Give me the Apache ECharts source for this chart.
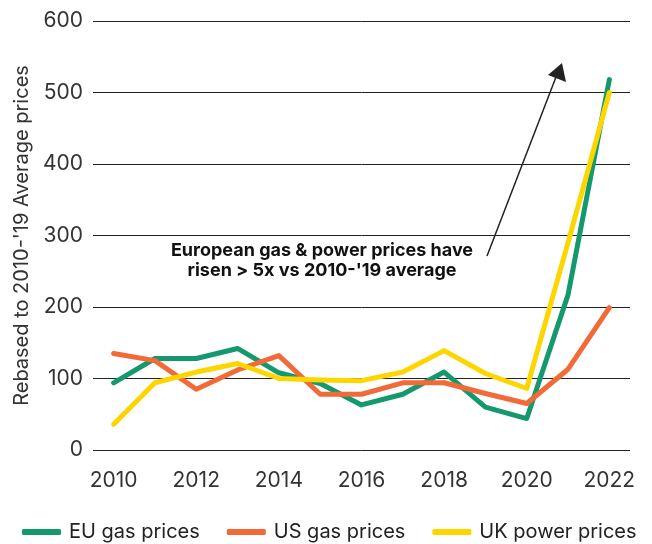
<!DOCTYPE html>
<html>
<head>
<meta charset="utf-8">
<script src="https://cdn.jsdelivr.net/npm/echarts@6/dist/echarts.min.js"></script>
<style>
  html, body { margin: 0; padding: 0; background: #fff; }
  #main { width: 652px; height: 544px; }
</style>
</head>
<body>
<div id="main"></div>
<script>
// years on the x axis
var years = ['2010', '2011', '2012', '2013', '2014', '2015', '2016',
  '2017', '2018', '2019', '2020', '2021', '2022']
// rebased to 2010-'19 average = 100
var euGas = [94, 128, 128, 142, 108, 93, 63, 78, 109, 60, 44, 217, 518]
var usGas = [135, 125, 85, 112, 132, 78, 78, 94, 94, 79, 65, 113, 199]
var ukPower = [36, 94, 109, 121, 100, 98, 97, 109, 139, 107, 86, 290, 500]

var myChart = echarts.init(document.getElementById('main'))
var font = 'Inter, "Liberation Sans", sans-serif'

var option = {
  animation: false,
  textStyle: { fontFamily: font },
  grid: { left: 93, right: 22, top: 21, bottom: 94 },
  legend: {
    bottom: 2,
    left: 22,
    width: 630,
    padding: 0,
    itemWidth: 39,
    itemHeight: 6,
    itemGap: 27,
    icon: 'roundRect',
    textStyle: { fontSize: 20, color: '#222', fontFamily: font, padding: [0, 0, 0, 3] },
    data: ['EU gas prices', 'US gas prices', 'UK power prices']
  },
  xAxis: {
    type: 'category',
    data: years,
    boundaryGap: true,
    axisLine: { show: false },
    axisTick: { show: false },
    axisLabel: { interval: 1, fontSize: 21, color: '#333', margin: 20 }
  },
  yAxis: {
    type: 'value',
    min: 0,
    max: 600,
    interval: 100,
    name: "Rebased to 2010-'19 Average prices",
    nameLocation: 'middle',
    nameGap: 58,
    nameTextStyle: { fontSize: 20, color: '#333' },
    axisLine: { show: false },
    axisTick: { show: false },
    axisLabel: { fontSize: 21, color: '#333', margin: 10 },
    splitLine: { lineStyle: { color: '#222', width: 1 } }
  },
  series: [
    {
      name: 'EU gas prices', type: 'line', data: euGas,
      symbol: 'none', color: '#13996d',
      lineStyle: { width: 5, cap: 'round', join: 'round' }
    },
    {
      name: 'US gas prices', type: 'line', data: usGas,
      symbol: 'none', color: '#f26a37',
      lineStyle: { width: 5, cap: 'round', join: 'round' }
    },
    {
      name: 'UK power prices', type: 'line', data: ukPower,
      symbol: 'none', color: '#fdd600',
      lineStyle: { width: 5, cap: 'round', join: 'round' }
    }
  ],
  graphic: [
    // annotation arrow
    {
      type: 'line', z: 100,
      shape: { x1: 487, y1: 256, x2: 556, y2: 77 },
      style: { stroke: '#222', lineWidth: 1.5 }
    },
    {
      type: 'polygon', z: 100,
      shape: { points: [[562, 63], [548, 75], [566, 82]] },
      style: { fill: '#222' }
    },
    {
      type: 'text', z: 100,
      style: {
        x: 322, y: 241,
        text: 'European gas & power prices have\nrisen > 5x vs 2010-\'19 average',
        font: 'bold 18px ' + font,
        fill: '#111',
        lineHeight: 20,
        align: 'center',
        verticalAlign: 'top'
      }
    }
  ]
}

myChart.setOption(option)
</script>
</body>
</html>
